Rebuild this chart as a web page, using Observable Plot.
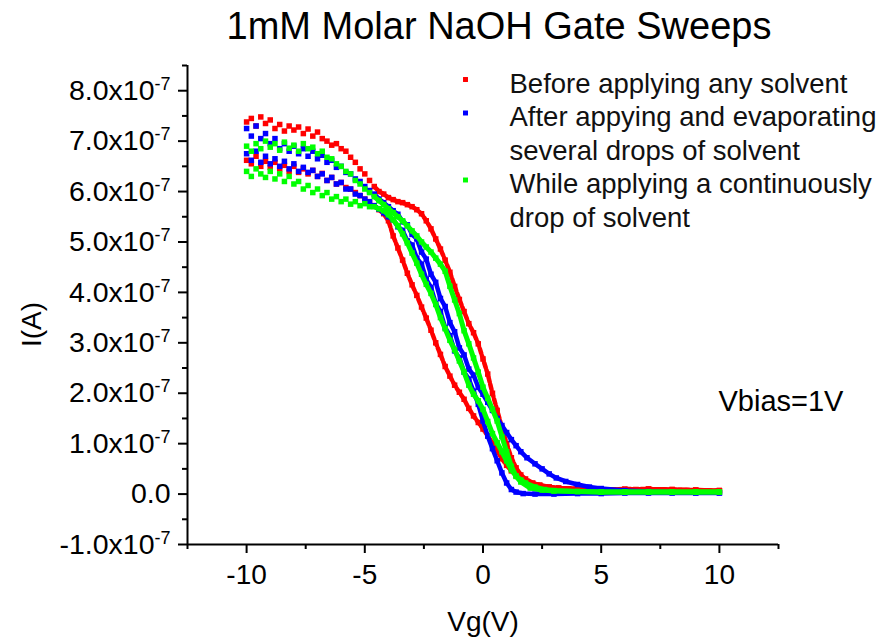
<!DOCTYPE html>
<html><head><meta charset="utf-8">
<script src="https://cdn.jsdelivr.net/npm/d3@7"></script>
<script src="https://cdn.jsdelivr.net/npm/@observablehq/plot@0.6"></script>
<style>html,body{margin:0;padding:0;background:#fff}#chart svg{display:block}</style>
</head><body><div id="chart"></div>
<script>
// Titles and labels
const chartTitle = "1mM Molar NaOH Gate Sweeps";
const xLabel = "Vg(V)";
const yLabel = "I(A)";
const note = "Vbias=1V";
const seriesNames = ["Before applying any solvent", "After appying and evaporating\nseveral drops of solvent", "While applying a continuously\ndrop of solvent"];
const seriesColors = ["#ff0000", "#0000ff", "#00ff00"];

// Axis ticks (current in units of 1e-7 A)
const xMajorTicks = [-10, -5, 0, 5, 10];
const xMinorTicks = [-12.5, -7.5, -2.5, 2.5, 7.5, 12.5];
const yMajorTicks = [-1, 0, 1, 2, 3, 4, 5, 6, 7, 8];
const yMinorTicks = [-0.5, 0.5, 1.5, 2.5, 3.5, 4.5, 5.5, 6.5, 7.5, 8.5];
const xDomain = [-12.5, 12.5];
const yDomain = [-1, 8.5];

// Data [Vg (V), I (1e-7 A)]
const redUpper = [[-10,7.38],[-9.8,7.45],[-9.6,7.30],[-9.4,7.48],[-9.2,7.35],[-9,7.42],[-8.8,7.25],[-8.6,7.33],[-8.4,7.20],[-8.2,7.30],[-8,7.22],[-7.8,7.28],[-7.6,7.15],[-7.4,7.24],[-7.2,7.10],[-7,7.18],[-6.8,7.05],[-6.6,7.00],[-6.4,6.92],[-6.2,6.95],[-6,6.85],[-5.8,6.80],[-5.6,6.68],[-5.4,6.58],[-5.2,6.45],[-5,6.35],[-4.8,6.22],[-4.6,6.10],[-4.4,6.00],[-4.2,5.95],[-4,5.88],[-3.8,5.84],[-3.6,5.80],[-3.4,5.78],[-3.2,5.74],[-3,5.70],[-2.8,5.64],[-2.6,5.56],[-2.4,5.42],[-2.2,5.26],[-2,5.06],[-1.8,4.86],[-1.6,4.64],[-1.4,4.40],[-1.2,4.12],[-1,3.86],[-0.8,3.62],[-0.6,3.38],[-0.4,3.20],[-0.2,2.98],[0,2.68],[0.2,2.38],[0.4,2.00],[0.6,1.66],[0.8,1.32],[1,1.00],[1.2,0.72],[1.4,0.52],[1.6,0.38],[1.8,0.30],[2.1,0.22],[2.4,0.18],[2.8,0.14],[3.2,0.12],[4,0.10],[5,0.09],[6,0.09],[7,0.10],[8,0.09],[9,0.08],[10,0.07]];
const redLower = [[-10,6.62],[-9.8,6.55],[-9.6,6.70],[-9.4,6.50],[-9.2,6.60],[-9,6.48],[-8.8,6.58],[-8.6,6.45],[-8.4,6.52],[-8.2,6.40],[-8,6.50],[-7.8,6.38],[-7.6,6.45],[-7.4,6.35],[-7.2,6.42],[-7,6.30],[-6.8,6.36],[-6.6,6.22],[-6.4,6.28],[-6.2,6.15],[-6,6.18],[-5.8,6.08],[-5.6,6.05],[-5.4,5.98],[-5.2,5.92],[-5,5.85],[-4.8,5.78],[-4.6,5.72],[-4.4,5.64],[-4.2,5.56],[-4,5.42],[-3.8,5.12],[-3.6,4.88],[-3.4,4.64],[-3.2,4.38],[-3,4.15],[-2.8,3.94],[-2.6,3.71],[-2.4,3.49],[-2.2,3.25],[-2,3.00],[-1.8,2.77],[-1.6,2.53],[-1.4,2.34],[-1.2,2.16],[-1,2.02],[-0.8,1.88],[-0.6,1.70],[-0.4,1.55],[-0.2,1.42],[0,1.29],[0.2,1.16],[0.4,1.01],[0.6,0.86],[0.8,0.70],[1,0.57],[1.2,0.46],[1.4,0.37],[1.6,0.31],[1.8,0.26],[2.1,0.21],[2.4,0.17],[2.8,0.14],[3.2,0.12],[4,0.11],[5,0.09],[6,0.10],[7,0.10],[8,0.09],[9,0.08],[10,0.07]];
const blueUpper = [[-10,7.25],[-9.8,7.10],[-9.6,7.30],[-9.4,7.05],[-9.2,7.15],[-9,6.95],[-8.8,7.05],[-8.6,6.85],[-8.4,6.95],[-8.2,6.80],[-8,6.90],[-7.8,6.75],[-7.6,6.85],[-7.4,6.70],[-7.2,6.80],[-7,6.65],[-6.8,6.72],[-6.6,6.58],[-6.4,6.62],[-6.2,6.48],[-6,6.50],[-5.8,6.38],[-5.6,6.35],[-5.4,6.25],[-5.2,6.20],[-5,6.10],[-4.8,6.02],[-4.6,5.95],[-4.4,5.85],[-4.2,5.78],[-4,5.70],[-3.8,5.62],[-3.6,5.55],[-3.4,5.40],[-3.2,5.34],[-3,5.15],[-2.8,5.06],[-2.6,4.80],[-2.4,4.66],[-2.2,4.36],[-2,4.20],[-1.8,3.88],[-1.6,3.72],[-1.4,3.40],[-1.2,3.22],[-1,2.90],[-0.8,2.76],[-0.6,2.48],[-0.4,2.36],[-0.2,2.12],[0,1.98],[0.2,1.82],[0.4,1.66],[0.6,1.50],[0.8,1.36],[1,1.22],[1.2,1.08],[1.4,0.96],[1.6,0.84],[1.86,0.72],[2.2,0.60],[2.5,0.50],[2.8,0.40],[3.1,0.32],[3.5,0.25],[4,0.19],[4.5,0.14],[5,0.11],[6,0.07],[7,0.05],[8,0.04],[9,0.03],[10,0.03]];
const blueLower = [[-10,6.75],[-9.8,6.62],[-9.6,6.80],[-9.4,6.58],[-9.2,6.70],[-9,6.55],[-8.8,6.65],[-8.6,6.50],[-8.4,6.60],[-8.2,6.45],[-8,6.55],[-7.8,6.40],[-7.6,6.48],[-7.4,6.38],[-7.2,6.42],[-7,6.30],[-6.8,6.35],[-6.6,6.22],[-6.4,6.28],[-6.2,6.15],[-6,6.18],[-5.8,6.05],[-5.6,6.05],[-5.4,5.95],[-5.2,5.92],[-5,5.85],[-4.8,5.80],[-4.6,5.72],[-4.4,5.65],[-4.2,5.58],[-4,5.50],[-3.8,5.44],[-3.6,5.30],[-3.4,5.23],[-3.2,5.02],[-3,4.94],[-2.8,4.68],[-2.6,4.56],[-2.4,4.26],[-2.2,4.10],[-2,3.78],[-1.8,3.62],[-1.6,3.30],[-1.4,3.14],[-1.2,2.84],[-1,2.70],[-0.8,2.42],[-0.6,2.28],[-0.4,2.04],[-0.2,1.78],[0,1.45],[0.2,1.15],[0.4,0.90],[0.6,0.66],[0.8,0.42],[1,0.22],[1.2,0.09],[1.4,0.04],[1.7,0.01],[2.2,0.00],[3,0.00],[4,0.01],[5,0.01],[6,0.02],[7,0.02],[8,0.02],[9,0.02],[10,0.02]];
const greenUpper = [[-10,6.90],[-9.8,6.80],[-9.6,6.95],[-9.4,6.85],[-9.2,7.00],[-9,6.88],[-8.8,6.95],[-8.6,6.82],[-8.4,6.98],[-8.2,6.86],[-8,6.92],[-7.8,6.80],[-7.6,6.95],[-7.4,6.85],[-7.2,6.88],[-7,6.75],[-6.8,6.80],[-6.6,6.68],[-6.4,6.65],[-6.2,6.55],[-6,6.50],[-5.8,6.40],[-5.6,6.35],[-5.4,6.22],[-5.2,6.15],[-5,6.05],[-4.8,5.98],[-4.6,5.90],[-4.4,5.82],[-4.2,5.74],[-4,5.66],[-3.8,5.58],[-3.6,5.50],[-3.4,5.42],[-3.2,5.32],[-3,5.22],[-2.8,5.12],[-2.6,5.00],[-2.4,4.90],[-2.2,4.80],[-2,4.68],[-1.8,4.56],[-1.6,4.42],[-1.4,4.12],[-1.2,3.85],[-1,3.58],[-0.8,3.24],[-0.6,2.98],[-0.4,2.70],[-0.2,2.42],[0,2.12],[0.2,1.90],[0.4,1.68],[0.6,1.45],[0.8,1.14],[1,0.84],[1.2,0.55],[1.4,0.35],[1.6,0.24],[2,0.12],[2.5,0.08],[3,0.06],[4,0.05],[5,0.04],[6,0.04],[7,0.04],[8,0.04],[9,0.04],[10,0.04]];
const greenLower = [[-10,6.40],[-9.8,6.30],[-9.6,6.45],[-9.4,6.35],[-9.2,6.28],[-9,6.40],[-8.8,6.25],[-8.6,6.35],[-8.4,6.20],[-8.2,6.30],[-8,6.15],[-7.8,6.20],[-7.6,6.05],[-7.4,6.12],[-7.2,5.98],[-7,6.05],[-6.8,5.92],[-6.6,5.98],[-6.4,5.85],[-6.2,5.90],[-6,5.80],[-5.8,5.85],[-5.6,5.75],[-5.4,5.80],[-5.2,5.72],[-5,5.76],[-4.8,5.70],[-4.6,5.70],[-4.4,5.66],[-4.2,5.62],[-4,5.54],[-3.8,5.44],[-3.6,5.32],[-3.4,5.16],[-3.2,4.98],[-3,4.78],[-2.8,4.58],[-2.6,4.36],[-2.4,4.16],[-2.2,3.98],[-2,3.76],[-1.8,3.50],[-1.6,3.28],[-1.4,3.05],[-1.2,2.86],[-1,2.64],[-0.8,2.42],[-0.6,2.16],[-0.4,1.98],[-0.2,1.85],[0,1.68],[0.2,1.44],[0.4,1.20],[0.6,1.02],[0.8,0.84],[1,0.66],[1.2,0.48],[1.4,0.36],[1.6,0.28],[1.8,0.22],[2.2,0.14],[2.6,0.09],[3,0.07],[4,0.05],[5,0.04],[6,0.04],[7,0.04],[8,0.04],[9,0.04],[10,0.04]];

const seriesBranches = [[redUpper, redLower], [blueUpper, blueLower], [greenUpper, greenLower]];

const rows = [];
seriesBranches.forEach((branches, s) => branches.forEach((pts, b) => pts.forEach(([V, I]) => rows.push({s, key: s + "-" + b, V, I}))));

const font = "'Liberation Sans', Arial, Helvetica, sans-serif";
const lineStarts = [0, 1, 3];
const lineStep = 33.5;
const legendSize = 27.5;

const dataMarks = [];
seriesColors.forEach((c, s) => {
  const r = rows.filter(d => d.s === s);
  dataMarks.push(Plot.line(r.filter(d => d.V >= -4.6), {x: "V", y: "I", z: "key", stroke: c, strokeWidth: s === 2 ? 5 : 4.5, strokeDasharray: s === 0 ? "5,2.5" : null}));
  dataMarks.push(Plot.dot(r, {x: "V", y: "I", symbol: "square", r: 3.1, fill: c, stroke: "none"}));
});

const legendMarks = [];
seriesNames.forEach((name, i) => {
  const base = 23 + lineStep * lineStarts[i];
  legendMarks.push(Plot.dot([0], {frameAnchor: "top-left", dx: 278, dy: base - 9, symbol: "square", r: 2.8, fill: seriesColors[i], stroke: "none"}));
  legendMarks.push(Plot.text([name], {frameAnchor: "top-left", dx: 322, dy: base - 0.71 * legendSize, textAnchor: "start", lineAnchor: "top", fontSize: legendSize, lineHeight: lineStep / legendSize, fill: "#111"}));
});

const chart = Plot.plot({
  width: 889, height: 642,
  marginLeft: 187, marginRight: 111, marginTop: 65, marginBottom: 98,
  style: {fontFamily: font, fontSize: "28px", color: "#000", background: "#fff"},
  x: {domain: xDomain},
  y: {domain: yDomain},
  marks: [
    Plot.axisX({ticks: xMinorTicks, tickSize: 5, strokeWidth: 2, tickFormat: () => "", fill: "none", label: null}),
    Plot.axisX({ticks: xMajorTicks, tickSize: 9, tickPadding: 11, strokeWidth: 2, tickFormat: d => String(d), fontSize: 28, label: null}),
    Plot.axisY({ticks: yMinorTicks, tickSize: 5, strokeWidth: 2, tickFormat: () => "", fill: "none", label: null}),
    Plot.axisY({ticks: yMajorTicks, tickSize: 9, tickPadding: 8, strokeWidth: 2, tickFormat: d => d === 0 ? "0.0" : d.toFixed(1) + "x10", fontSize: 28.5, label: null}),
    Plot.ruleX([xDomain[0]], {strokeWidth: 2}),
    Plot.ruleY([yDomain[0]], {strokeWidth: 2}),
    ...dataMarks,
    ...legendMarks,
    Plot.text([chartTitle], {frameAnchor: "top", dx: 16, dy: -27, lineAnchor: "bottom", fontSize: 38}),
    Plot.text([xLabel], {frameAnchor: "bottom", dy: 86, lineAnchor: "bottom", fontSize: 28}),
    Plot.text([yLabel], {frameAnchor: "left", dx: -155, dy: 42, rotate: -90, lineAnchor: "middle", fontSize: 28}),
    Plot.text([note], {frameAnchor: "top-left", dx: 531, dy: 345, textAnchor: "start", lineAnchor: "bottom", fontSize: 29})
  ]
});

// superscript exponent on y tick labels
d3.select(chart).selectAll("text").each(function () {
  const t = this.textContent;
  if (/x10$/.test(t)) {
    d3.select(this).append("tspan").attr("dy", "-10").attr("font-size", "18").text("-7");
  }
});

document.getElementById("chart").append(chart);
</script>
</body></html>
